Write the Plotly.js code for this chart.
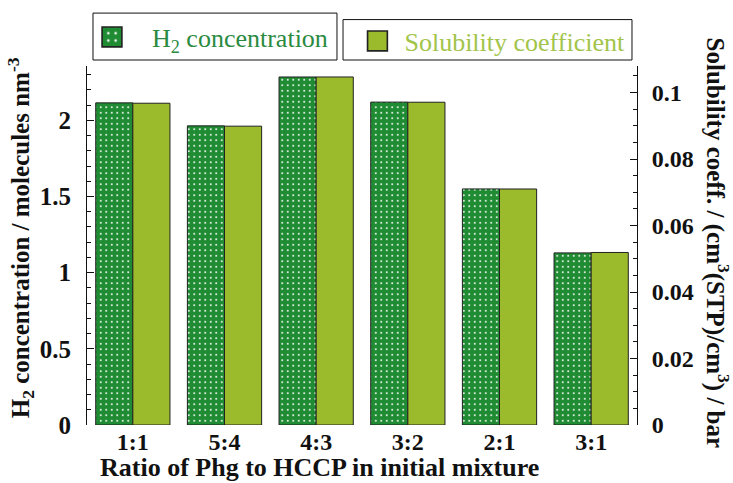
<!DOCTYPE html>
<html>
<head>
<meta charset="utf-8">
<script src="https://cdn.plot.ly/plotly-3.0.1.min.js"></script>
<style>html,body{margin:0;padding:0;background:#fff;}#chart{width:733px;height:483px;}</style>
</head>
<body>
<div id="chart"></div>
<script>
// ---- data ----
const ratios = ["1:1", "5:4", "4:3", "3:2", "2:1", "3:1"];
const h2Concentration = [2.115, 1.964, 2.285, 2.12, 1.55, 1.13];          // molecules nm^-3
const solubilityCoeff = [0.0968, 0.0899, 0.1047, 0.0971, 0.0710, 0.0519]; // cm3(STP)/cm3/bar
const leftTicks = [0, 0.5, 1, 1.5, 2];
const rightTicks = [0, 0.02, 0.04, 0.06, 0.08, 0.1];

const serif = "Liberation Serif, Times New Roman, serif";
const darkGreen = "#1f8b32";
const lightGreen = "#9bbb2c";

const traces = [
  {
    type: "bar", name: "H<sub>2</sub> concentration",
    x: ratios, y: h2Concentration, xaxis: "x", yaxis: "y",
    offset: -0.405, width: 0.405,
    marker: { color: darkGreen, line: { color: "#222", width: 1 },
      pattern: { shape: ".", fgcolor: "#ffffff", bgcolor: darkGreen, size: 5.5, solidity: 0.1 } },
    legend: "legend", hoverinfo: "skip"
  },
  {
    type: "bar", name: "Solubility coefficient",
    x: ratios, y: solubilityCoeff, xaxis: "x", yaxis: "y2",
    offset: 0, width: 0.405,
    marker: { color: lightGreen, line: { color: "#222", width: 1 } },
    legend: "legend2", hoverinfo: "skip"
  }
];

const tickFont = { family: serif, size: 25, color: "#111", weight: "bold" };

const layout = {
  width: 733, height: 483,
  margin: { l: 87, r: 96, t: 66, b: 58 },
  paper_bgcolor: "#fff", plot_bgcolor: "#fff",
  barmode: "overlay",
  showlegend: true,
  font: { family: serif, color: "#111" },
  xaxis: {
    type: "category", ticks: "", showline: false, showgrid: false, zeroline: false,
    tickfont: { family: serif, size: 24, color: "#111", weight: "bold" },
    ticklabelstandoff: 0, range: [-0.5, 5.5]
  },
  xaxis2: {
    overlaying: "x", anchor: "y", side: "bottom", type: "linear", range: [0, 6],
    tick0: 0, dtick: 1, ticks: "inside", ticklen: 7, tickcolor: "#111",
    showticklabels: false, showgrid: false, zeroline: false,
    showline: true, linecolor: "#111", linewidth: 1, mirror: "ticks",
    minor: { dtick: 0.2, ticks: "inside", ticklen: 4, tickcolor: "#111", showgrid: false }
  },
  yaxis: {
    range: [0, 2.357], tickvals: leftTicks, ticks: "inside", ticklen: 7, tickcolor: "#111",
    showline: true, linecolor: "#111", linewidth: 1, showgrid: false, zeroline: false,
    tickfont: tickFont, ticklabelstandoff: 10,
    minor: { dtick: 0.1, ticks: "inside", ticklen: 4, tickcolor: "#111", showgrid: false }
  },
  yaxis2: {
    overlaying: "y", side: "right", anchor: "x", range: [0, 0.108], tickvals: rightTicks,
    ticks: "inside", ticklen: 7, tickcolor: "#111",
    showline: true, linecolor: "#111", linewidth: 1, showgrid: false, zeroline: false,
    tickfont: { family: serif, size: 24, color: "#111", weight: "bold" }, ticklabelstandoff: 9,
    minor: { dtick: 0.005, ticks: "inside", ticklen: 4, tickcolor: "#111", showgrid: false }
  },
  legend: {
    x: -0.0273, y: 1.0807, xanchor: "left", yanchor: "middle",
    bgcolor: "rgba(0,0,0,0)", borderwidth: 0, itemwidth: 70,
    font: { family: serif, size: 26, color: "#2a8a3f" }, itemclick: false, itemdoubleclick: false
  },
  legend2: {
    x: 0.479, y: 1.0695, xanchor: "left", yanchor: "middle",
    bgcolor: "rgba(0,0,0,0)", borderwidth: 0, itemwidth: 44,
    font: { family: serif, size: 26, color: "#a2c44a" }, itemclick: false, itemdoubleclick: false
  },
  shapes: [
    { type: "rect", xref: "paper", yref: "paper", x0: 0.0109, x1: 0.4545, y0: 1.0167, y1: 1.1474,
      line: { color: "#111", width: 1 }, fillcolor: "rgba(0,0,0,0)" },
    { type: "rect", xref: "paper", yref: "paper", x0: 0.4655, x1: 0.9909, y0: 1.0167, y1: 1.1293,
      line: { color: "#111", width: 1 }, fillcolor: "rgba(0,0,0,0)" }
  ],
  annotations: [
    { text: "<b>Ratio of Phg to HCCP in initial mixture</b>", xref: "paper", yref: "paper",
      x: 0.4236, y: -0.119, xanchor: "center", yanchor: "middle", showarrow: false,
      font: { family: serif, size: 26, color: "#111" } },
    { text: "<b>H<sub>2</sub> concentration / molecules nm<sup>-3</sup></b>", xref: "paper", yref: "paper",
      x: -0.12, y: 0.52, xanchor: "center", yanchor: "middle", textangle: -90, showarrow: false,
      font: { family: serif, size: 25, color: "#111" } },
    { text: "<b>Solubility coeff. / (cm<sup>3</sup>(STP)/cm<sup>3</sup>) / bar</b>", xref: "paper", yref: "paper",
      x: 1.1455, y: 0.508, xanchor: "center", yanchor: "middle", textangle: 90, showarrow: false,
      font: { family: serif, size: 25, color: "#111" } }
  ]
};

Plotly.newPlot("chart", traces, layout, { staticPlot: true, displayModeBar: false }).then(function () {
  document.querySelectorAll("g[class^='legend'] .legendpoints path").forEach(function (p) {
    const t = p.getAttribute("transform") || "";
    if (t.indexOf("scale") < 0) p.setAttribute("transform", t + " scale(1.65)");
  });
});
</script>
</body>
</html>
